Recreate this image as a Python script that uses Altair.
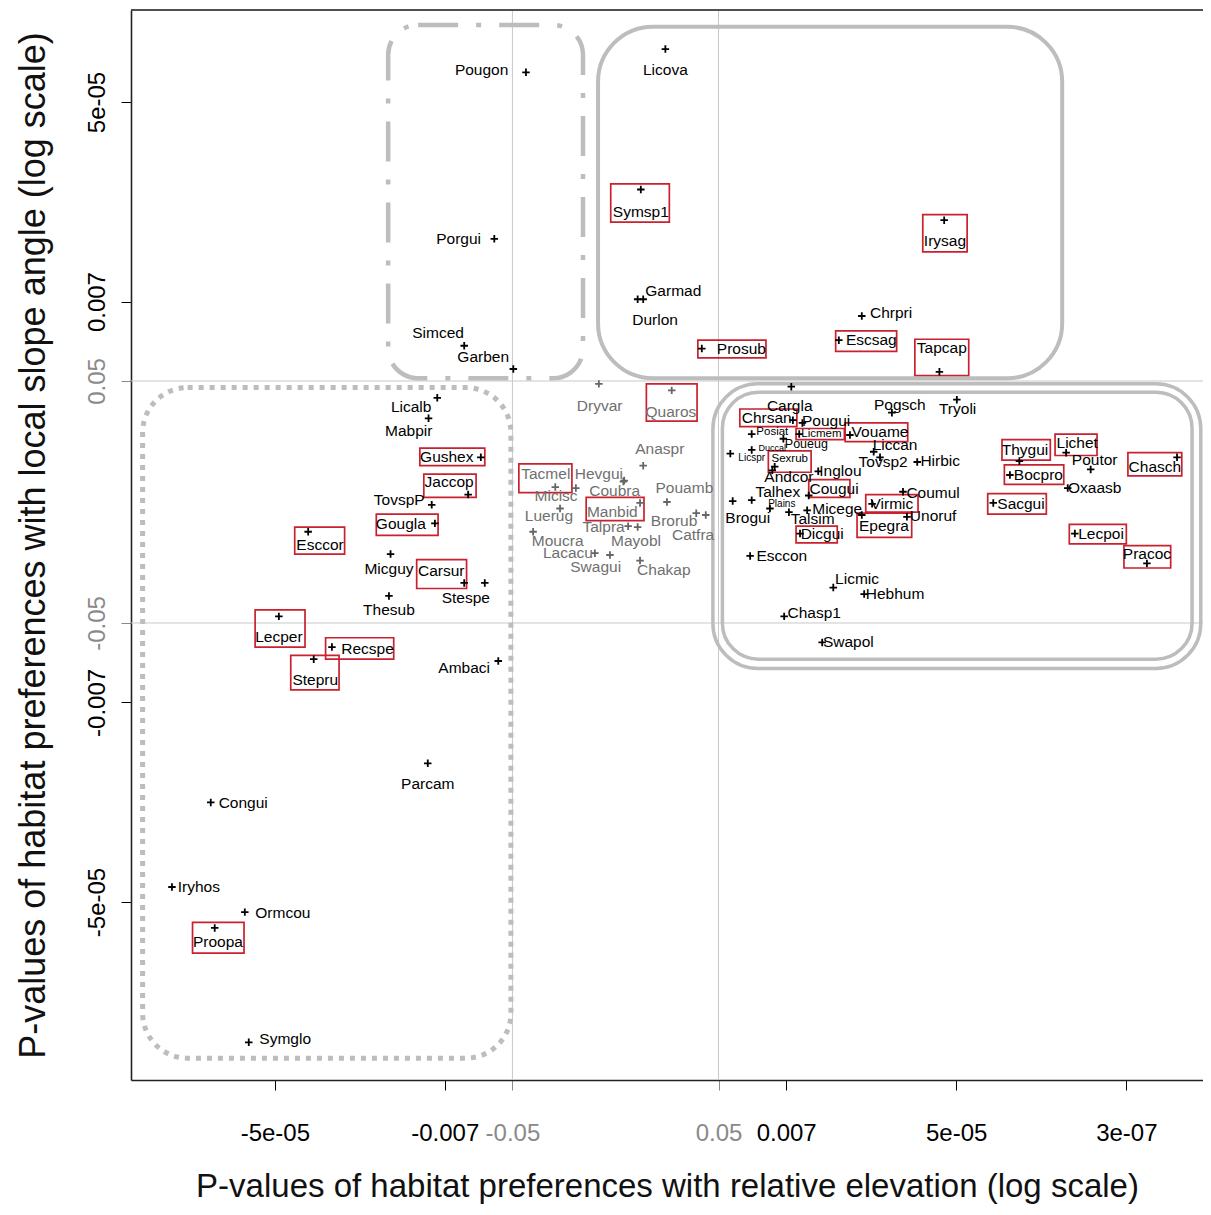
import altair as alt
import pandas as pd

# ---------------- data (signed -log10 p-values) ----------------
names = ["Pougon", "Porgui", "Simced", "Garben", "Licova", "Symsp1", "Garmad", "Durlon", "Prosub", "Chrpri",
         "Escsag", "Tapcap", "Irysag", "Dryvar", "Quaros", "Anaspr", "Tacmel", "Hevgui", "Micisc", "Coubra",
         "Luerug", "Manbid", "Talpra", "Mayobl", "Pouamb", "Brorub", "Catfra", "Moucra", "Lacacu", "Swagui",
         "Chakap", "Cargla", "Chrsan", "Pougui", "Posiat", "Licmem", "Poueug", "Duccal", "Licspr", "Sexrub",
         "Andcor", "Inglou", "Cougui", "Talhex", "Brogui", "Plains", "Micege", "Talsim", "Dicgui", "Esccon",
         "Pogsch", "Tryoli", "Vouame", "Liccan", "Tovsp2", "Hirbic", "Coumul", "Virmic", "Unoruf", "Epegra",
         "Thygui", "Lichet", "Poutor", "Chasch", "Bocpro", "Oxaasb", "Sacgui", "Lecpoi", "Pracoc", "Licmic",
         "Hebhum", "Chasp1", "Swapol", "Licalb", "Mabpir", "Gushex", "Jaccop", "TovspP", "Gougla", "Micguy",
         "Carsur", "Stespe", "Thesub", "Esccor", "Lecper", "Stepru", "Recspe", "Ambaci", "Parcam", "Congui",
         "Iryhos", "Ormcou", "Proopa", "Symglo"]

elev = [-1.13, -1.53, -1.91, -1.29, 0.63, 0.32, 0.28, 0.35, 1.09, 3.11,
        2.82, 4.09, 4.15, -0.21, 0.71, 0.35, -0.76, 0.11, -0.50, 0.10,
        -0.70, 0.31, 0.16, 0.28, 0.65, 1.02, 1.14, -1.04, -0.26, -0.07,
        0.31, 2.22, 2.24, 2.36, 1.72, 2.32, 2.12, 1.72, 1.45, 2.01,
        1.98, 2.56, 2.44, 1.72, 1.48, 1.95, 2.42, 2.19, 2.33, 1.70,
        3.49, 4.31, 2.96, 3.26, 3.34, 3.81, 3.63, 3.24, 3.68, 3.11,
        5.10, 5.69, 6.00, 7.09, 4.98, 5.71, 4.77, 5.80, 6.71, 2.75,
        3.14, 2.13, 2.61, -2.25, -2.36, -1.70, -1.86, -2.32, -2.28, -2.84,
        -1.91, -1.65, -2.86, -3.88, -4.25, -3.81, -3.58, -1.48, -2.37, -5.11,
        -5.60, -4.68, -5.06, -4.63]

slope = [4.62, 2.83, 1.68, 1.43, 4.87, 3.36, 2.18, 2.18, 1.65, 2.00,
         1.74, 1.40, 3.03, 1.27, 1.20, 0.39, 0.16, 0.23, 0.15, 0.22,
         -0.07, -0.01, -0.26, -0.27, 0.00, -0.12, -0.14, -0.32, -0.55, -0.57,
         -0.63, 1.24, 0.88, 0.85, 0.73, 0.73, 0.68, 0.56, 0.52, 0.38,
         0.34, 0.33, 0.07, 0.02, 0.01, -0.07, -0.09, -0.11, -0.34, -0.58,
         0.96, 1.10, 0.72, 0.54, 0.48, 0.43, 0.11, -0.02, -0.16, -0.14,
         0.44, 0.53, 0.35, 0.48, 0.29, 0.15, -0.01, -0.34, -0.66, -0.92,
         -0.99, -1.23, -1.51, 1.12, 0.90, 0.48, 0.08, -0.03, -0.23, -0.56,
         -0.87, -0.87, -1.01, -0.32, -1.23, -1.69, -1.56, -1.71, -2.81, -3.23,
         -4.14, -4.41, -4.58, -5.81]

label_elev = [-1.69, -1.98, -2.24, -1.67, 0.63, 0.32, 0.73, 0.50, 1.59, 3.48,
              3.23, 4.12, 4.16, -0.20, 0.70, 0.56, -0.88, -0.21, -0.75, -0.01,
              -0.84, -0.04, -0.15, 0.26, 0.87, 0.74, 0.98, -0.73, -0.60, -0.25,
              0.61, 2.20, 1.91, 2.66, 1.98, 2.60, 2.41, 1.98, 1.72, 2.20,
              2.19, 2.84, 2.76, 2.05, 1.67, 2.10, 2.80, 2.49, 2.61, 2.10,
              3.59, 4.32, 3.34, 3.53, 3.38, 4.10, 4.01, 3.49, 4.01, 3.39,
              5.17, 5.83, 6.05, 6.81, 5.34, 6.05, 5.12, 6.13, 6.71, 3.05,
              3.53, 2.51, 2.94, -2.58, -2.61, -2.13, -2.10, -2.73, -2.71, -2.86,
              -2.20, -1.89, -2.86, -3.73, -4.25, -3.79, -3.13, -1.91, -2.37, -4.70,
              -5.26, -4.20, -5.02, -4.17]

label_slope = [4.64, 2.83, 1.82, 1.56, 4.64, 3.12, 2.27, 1.96, 1.65, 2.03,
               1.74, 1.66, 2.81, 1.03, 0.97, 0.57, 0.30, 0.30, 0.06, 0.12,
               -0.15, -0.11, -0.27, -0.42, 0.15, -0.20, -0.36, -0.42, -0.55, -0.70,
               -0.73, 1.03, 0.90, 0.87, 0.75, 0.73, 0.62, 0.58, 0.47, 0.46,
               0.27, 0.33, 0.14, 0.11, -0.17, -0.02, -0.08, -0.18, -0.34, -0.58,
               1.04, 1.00, 0.75, 0.61, 0.43, 0.44, 0.10, -0.02, -0.15, -0.26,
               0.56, 0.63, 0.45, 0.38, 0.29, 0.15, -0.02, -0.34, -0.56, -0.83,
               -0.99, -1.19, -1.51, 1.02, 0.76, 0.48, 0.22, 0.02, -0.24, -0.72,
               -0.74, -1.03, -1.16, -0.46, -1.45, -1.91, -1.58, -1.79, -3.03, -3.24,
               -4.14, -4.42, -4.73, -5.77]

nonsignificant = ["Dryvar", "Quaros", "Anaspr", "Tacmel", "Hevgui", "Micisc", "Coubra", "Luerug", "Manbid",
                  "Talpra", "Mayobl", "Pouamb", "Brorub", "Catfra", "Moucra", "Lacacu", "Swagui", "Chakap"]

# species highlighted with a red frame (frame extent in the same units)
boxed = ["Symsp1", "Prosub", "Escsag", "Tapcap", "Irysag", "Quaros", "Tacmel", "Manbid", "Chrsan", "Licmem",
         "Sexrub", "Cougui", "Dicgui", "Vouame", "Virmic", "Epegra", "Thygui", "Lichet", "Chasch", "Bocpro",
         "Sacgui", "Lecpoi", "Pracoc", "Gushex", "Jaccop", "Gougla", "Carsur", "Esccor", "Lecper", "Stepru",
         "Recspe", "Proopa"]
box_x1 = [-0.06, 1.04, 2.78, 3.78, 3.88, 0.39, -1.22, -0.37, 1.57, 2.28,
          1.93, 2.44, 2.28, 2.90, 3.16, 3.05, 4.88, 5.55, 6.47, 4.91,
          4.70, 5.73, 6.42, -2.47, -2.42, -3.02, -2.51, -4.05, -4.55, -4.10,
          -3.66, -5.34]
box_x2 = [0.68, 1.90, 3.55, 4.46, 4.44, 1.03, -0.55, 0.36, 2.29, 2.89,
          2.47, 2.96, 2.80, 3.69, 3.82, 3.74, 5.49, 6.08, 7.15, 5.66,
          5.44, 6.45, 7.01, -1.65, -1.76, -2.24, -1.88, -3.42, -3.92, -3.49,
          -2.80, -4.69]
box_y1 = [3.42, 1.74, 1.84, 1.75, 3.09, 1.27, 0.41, 0.05, 1.00, 0.79,
          0.55, 0.24, -0.26, 0.85, 0.08, -0.12, 0.67, 0.73, 0.53, 0.40,
          0.09, -0.24, -0.47, 0.58, 0.30, -0.13, -0.62, -0.27, -1.16, -1.65,
          -1.46, -4.52]
box_y2 = [3.01, 1.55, 1.62, 1.36, 2.69, 0.87, 0.10, -0.20, 0.81, 0.67,
          0.32, 0.05, -0.44, 0.65, -0.11, -0.38, 0.45, 0.50, 0.28, 0.19,
          -0.13, -0.45, -0.71, 0.39, 0.05, -0.36, -0.93, -0.56, -1.56, -2.02,
          -1.69, -4.85]

# grouping frames
region_kind = ["dashdot", "solid", "double_outer", "double_inner", "dotted"]
region_x1 = [-2.87, -0.22, 1.23, 1.35, -5.97]
region_x2 = [-0.41, 5.64, 7.39, 7.28, -1.32]
region_y1 = [5.13, 5.11, 1.27, 1.18, 1.23]
region_y2 = [1.33, 1.33, -1.79, -1.69, -5.98]

threshold = [-1.301, 1.301]  # p = 0.05

x_tick_values = [-4.301, -2.155, -1.301, 1.301, 2.155, 4.301, 6.45]
x_tick_labels = ["-5e-05", "-0.007", "-0.05", "0.05", "0.007", "5e-05", "3e-07"]
y_tick_values = [4.301, 2.155, 1.301, -1.301, -2.155, -4.301]
y_tick_labels = ["5e-05", "0.007", "0.05", "-0.05", "-0.007", "-5e-05"]

# ---------------- styling ----------------
FONT = "Liberation Sans, Arial, Helvetica, sans-serif"
LABEL_SIZE = {"Posiat": 11.5, "Licmem": 11.5, "Poueug": 12.5, "Duccal": 9, "Licspr": 10, "Sexrub": 11.5,
              "Plains": 10}
W, H = 1072, 1070

df = pd.DataFrame({"name": names, "x": elev, "y": slope, "lx": label_elev, "ly": label_slope})
df["group"] = ["ns" if n in nonsignificant else "sig" for n in names]
df["fs"] = [LABEL_SIZE.get(n, 15.5) for n in names]

boxes = pd.DataFrame({"name": boxed, "x1": box_x1, "x2": box_x2, "y1": box_y1, "y2": box_y2})
regions = pd.DataFrame({"kind": region_kind, "x1": region_x1, "x2": region_x2, "y1": region_y1, "y2": region_y2})
thr = pd.DataFrame({"v": threshold})


def lab_expr(vals, labs):
    s = "''"
    for v, l in zip(reversed(vals), reversed(labs)):
        s = f"abs(datum.value - ({v})) < 0.01 ? '{l}' : ({s})"
    return s


gray_cond = {"condition": {"test": "abs(datum.value) < 1.5", "value": "#8a8a8a"}, "value": "#000000"}

xs = alt.Scale(domain=[-6.117, 7.418], nice=False, zero=False)
ys = alt.Scale(domain=[-6.215, 5.290], nice=False, zero=False)
XT = "P-values of habitat preferences with relative elevation (log scale)"
YT = "P-values of habitat preferences with local slope angle (log scale)"

xaxis = alt.Axis(values=x_tick_values, labelExpr=lab_expr(x_tick_values, x_tick_labels), grid=False,
                 tickSize=10, tickColor=gray_cond, labelColor=gray_cond, domainColor="#222", domainWidth=1.6,
                 labelFont=FONT, labelFontSize=24, titleFont=FONT, titleFontSize=33, titleFontWeight="normal",
                 labelPadding=31, titlePadding=25, labelFlush=False, labelOverlap=False, labelBaseline="top",
                 titleColor="#111")
yaxis = alt.Axis(values=y_tick_values, labelExpr=lab_expr(y_tick_values, y_tick_labels), grid=False,
                 tickSize=10, tickColor=gray_cond, labelColor=gray_cond, domainColor="#222", domainWidth=1.6,
                 labelFont=FONT, labelFontSize=24, titleFont=FONT, titleFontSize=36, titleFontWeight="normal",
                 labelAngle=270, labelAlign="center", labelBaseline="alphabetic", labelPadding=17,
                 titlePadding=33, labelFlush=False, labelOverlap=False, titleColor="#111")


def X(f):
    return alt.X(f"{f}:Q", scale=xs, axis=xaxis, title=XT)


def Y(f):
    return alt.Y(f"{f}:Q", scale=ys, axis=yaxis, title=YT)


vlines = alt.Chart(thr).mark_rule(color="#c8c8c8", strokeWidth=1).encode(x=X("v"))
hlines = alt.Chart(thr).mark_rule(color="#c8c8c8", strokeWidth=1).encode(y=Y("v"))
top_border = alt.Chart(thr).mark_rule(color="#444", strokeWidth=1.5).encode(
    x=alt.value(0), x2=alt.value(W), y=alt.value(0))

region_style = {
    "dashdot": dict(cornerRadius=30, strokeWidth=4.5, strokeDash=[40, 18, 5, 18]),
    "solid": dict(cornerRadius=55, strokeWidth=4),
    "double_outer": dict(cornerRadius=45, strokeWidth=3.5),
    "double_inner": dict(cornerRadius=36, strokeWidth=3.5),
    "dotted": dict(cornerRadius=45, strokeWidth=5, strokeDash=[5, 6]),
}
region_layers = []
for kind, st in region_style.items():
    region_layers.append(
        alt.Chart(regions).transform_filter(alt.datum.kind == kind)
        .mark_rect(fillOpacity=0, stroke="#bdbdbd", **st)
        .encode(x=X("x1"), x2="x2", y=Y("y1"), y2="y2")
    )

red_boxes = alt.Chart(boxes).mark_rect(fillOpacity=0, stroke="#c9212e", strokeWidth=1.7).encode(
    x=X("x1"), x2="x2", y=Y("y1"), y2="y2")

color_scale = alt.Scale(domain=["sig", "ns"], range=["#000000", "#666666"])
points = alt.Chart(df).mark_point(shape="M-1,0L1,0M0,-1L0,1", size=56, strokeWidth=1.8, filled=False,
                                  opacity=1).encode(
    x=X("x"), y=Y("y"), color=alt.Color("group:N", scale=color_scale, legend=None))

text_scale = alt.Scale(domain=["sig", "ns"], range=["#000000", "#707070"])
labels = alt.Chart(df).mark_text(font=FONT, align="center", baseline="middle").encode(
    x=X("lx"), y=Y("ly"), text="name:N",
    color=alt.Color("group:N", scale=text_scale, legend=None),
    size=alt.Size("fs:Q", scale=None, legend=None))

chart = alt.layer(vlines, hlines, *region_layers, red_boxes, points, labels, top_border).properties(
    width=W, height=H,
    autosize=alt.AutoSizeParams(type="none"),
    padding={"left": 123, "top": 2, "right": 0, "bottom": 127},
    background="white",
).resolve_scale(color="independent").configure_view(strokeWidth=0)

chart.save("out.html", embed_options={"renderer": "svg", "actions": False})
